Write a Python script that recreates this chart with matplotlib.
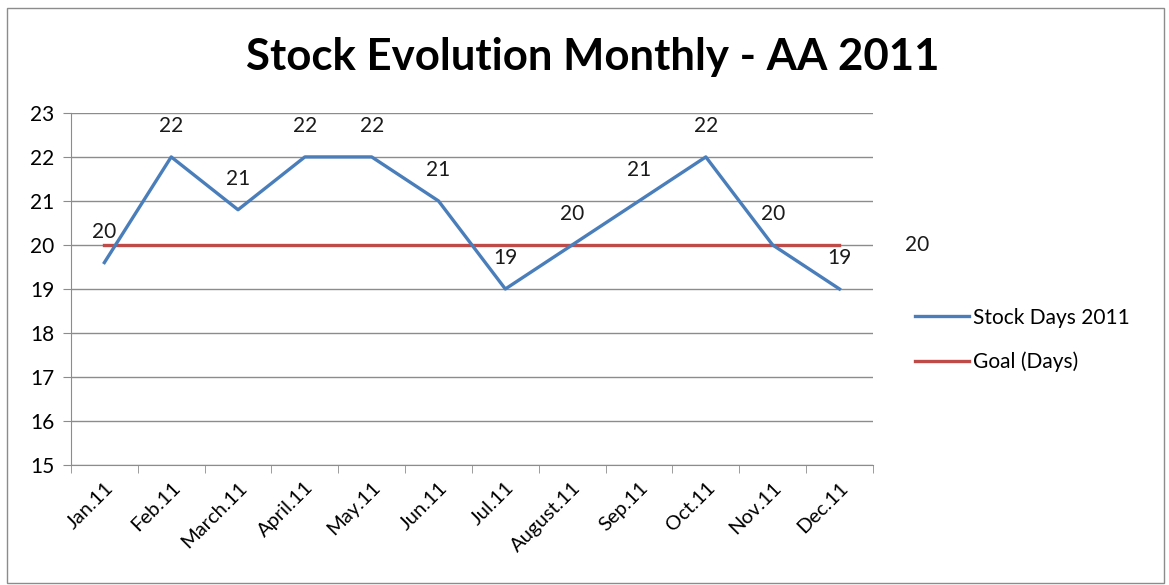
import matplotlib.pyplot as plt
from matplotlib.patches import Rectangle

months = ["Jan.11", "Feb.11", "March.11", "April.11", "May.11", "Jun.11",
          "Jul.11", "August.11", "Sep.11", "Oct.11", "Nov.11", "Dec.11"]
stock_days = [19.6, 22, 20.8, 22, 22, 21, 19, 20, 21, 22, 20, 19]
goal_days = [20] * 12

plt.rcParams["font.family"] = ["Lato", "DejaVu Sans"]

fig = plt.figure(figsize=(11.69, 5.85), dpi=100)
fig.patches.append(Rectangle((0.006, 0.003), 0.99, 0.984, transform=fig.transFigure,
                             fill=False, edgecolor="#8c8c8c", linewidth=1))
ax = fig.add_axes([0.0607, 0.205, 0.686, 0.602])

x = list(range(len(months)))
blue = "#4A7EBB"
red = "#BE4B48"
ax.plot(x, stock_days, color=blue, linewidth=2.4, label="Stock Days 2011", zorder=3)
ax.plot(x, goal_days, color=red, linewidth=2.4, label="Goal (Days)", zorder=2)

for i, v in enumerate(stock_days):
    ax.annotate(f"{round(v)}", (i, v), xytext=(0, 22), textcoords="offset points",
                ha="center", va="center", fontsize=15, color="#1a1a1a")
ax.annotate(f"{goal_days[-1]}", (x[-1], goal_days[-1]), xytext=(56, 0),
            textcoords="offset points", ha="center", va="center",
            fontsize=15, color="#1a1a1a", annotation_clip=False)

ax.set_xlim(-0.5, len(months) - 0.5)
ax.set_ylim(15, 23)
ax.set_yticks(range(15, 24))
ax.yaxis.grid(True, color="#8c8c8c", linewidth=1)
ax.set_axisbelow(True)

ax.set_xticks(x)
ax.set_xticklabels(months, rotation=45, ha="right", rotation_mode="anchor", fontsize=14.5)
ax.tick_params(axis="x", length=0, pad=10)
ax.set_xticks([i - 0.5 for i in range(len(months) + 1)], minor=True)
ax.tick_params(axis="x", which="minor", length=6, color="#8c8c8c")
ax.tick_params(axis="y", length=6, color="#8c8c8c", labelsize=15, pad=6)

for s in ["top", "right"]:
    ax.spines[s].set_visible(False)
for s in ["left", "bottom"]:
    ax.spines[s].set_color("#8c8c8c")

fig.suptitle("Stock Evolution Monthly - AA 2011", x=0.507, y=0.937, fontsize=31.5,
             fontweight="bold")

ax.legend(loc="center left", bbox_to_anchor=(1.029, 0.355), frameon=False,
          fontsize=15, handlelength=2.6, handletextpad=0.2, labelspacing=1.15)

fig.savefig("out.png", dpi=100)
